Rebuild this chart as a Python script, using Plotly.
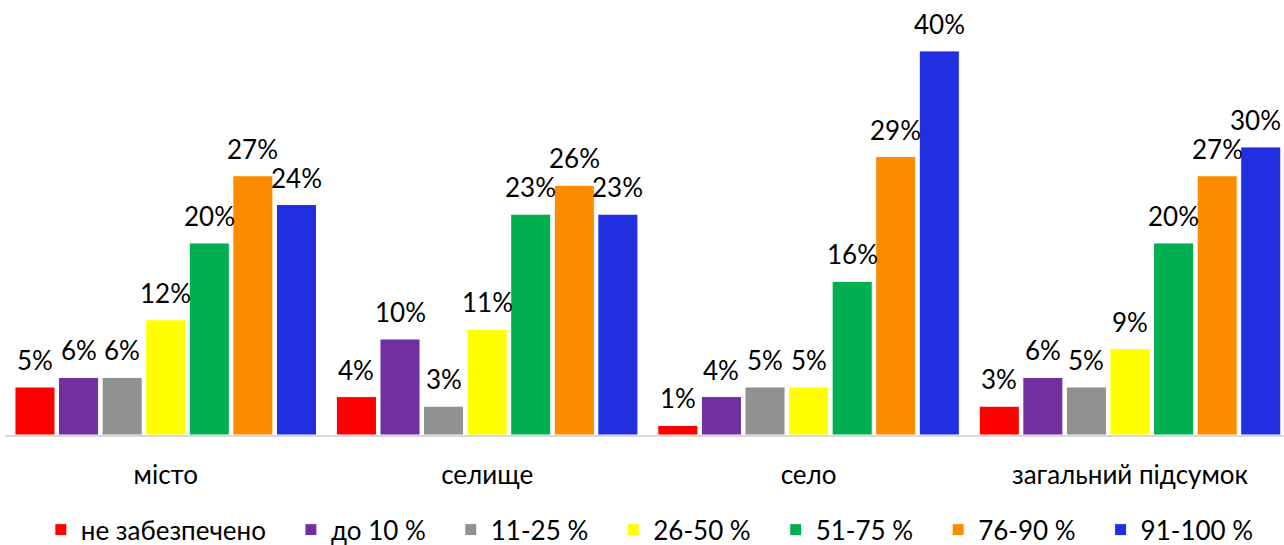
import plotly.graph_objects as go

categories = ["місто", "селище", "село", "загальний підсумок"]
series_names = ["не забезпечено", "до 10 %", "11-25 %", "26-50 %", "51-75 %", "76-90 %", "91-100 %"]
values_ne = [5, 4, 1, 3]
values_10 = [6, 10, 4, 6]
values_25 = [6, 3, 5, 5]
values_50 = [12, 11, 5, 9]
values_75 = [20, 23, 16, 20]
values_90 = [27, 26, 29, 27]
values_100 = [24, 23, 40, 30]
colors = ["#FF0000", "#7030A0", "#919191", "#FFFF00", "#00B050", "#FB8C00", "#202FE0"]

all_values = [values_ne, values_10, values_25, values_50, values_75, values_90, values_100]

FONT = "Lato"
TXT = "#000000"
W = 400
BARGAP = 0.051
GROUPGAP = 0.08
n_series = len(series_names)
n_cat = len(categories)
slot = (1 - BARGAP) / n_series

fig = go.Figure()
annotations = []
for i, (name, vals, col) in enumerate(zip(series_names, all_values, colors)):
    fig.add_trace(go.Bar(
        x=list(range(n_cat)), y=vals, name=name + "\u00a0" * 3,
        marker=dict(color=col, line=dict(color="white", width=1)),
        hoverinfo="y",
    ))
    for j, v in enumerate(vals):
        xc = j + (i - (n_series - 1) / 2) * slot
        at_edge = (i == n_series - 1 and j == n_cat - 1)
        annotations.append(dict(
            x=xc + (slot * 0.5 if at_edge else 0), y=v, xref="x", yref="y",
            xanchor="right" if at_edge else "center",
            text=f"{v}%", showarrow=False, yanchor="middle", yshift=27,
            font=dict(family=FONT, size=26, color=TXT, weight=W),
        ))

fig.update_layout(
    width=1284, height=545,
    margin=dict(l=5, r=0, t=0, b=110),
    paper_bgcolor="white", plot_bgcolor="white",
    barmode="group", bargap=BARGAP, bargroupgap=GROUPGAP,
    font=dict(family=FONT, size=24, color=TXT, weight=W),
    showlegend=True,
    legend=dict(orientation="h", x=0.512, xanchor="center", yref="container", y=0.028, yanchor="middle",
                font=dict(family=FONT, size=26, color=TXT, weight=W),
                itemwidth=30, traceorder="normal"),
    annotations=annotations,
)
fig.update_xaxes(showline=True, linecolor="#D9D9D9", linewidth=2, ticks="",
                 tickmode="array", tickvals=list(range(n_cat)), ticktext=categories,
                 range=[-0.5, 3.479], automargin=False,
                 tickfont=dict(family=FONT, size=26, color=TXT, weight=W), ticklabelstandoff=16)
fig.update_yaxes(visible=False, range=[0, 45.3], showgrid=False, zeroline=False)

fig.write_html("out.html", config={"displayModeBar": False},
               post_script="document.body.style.margin='0';document.body.style.overflow='hidden';")
